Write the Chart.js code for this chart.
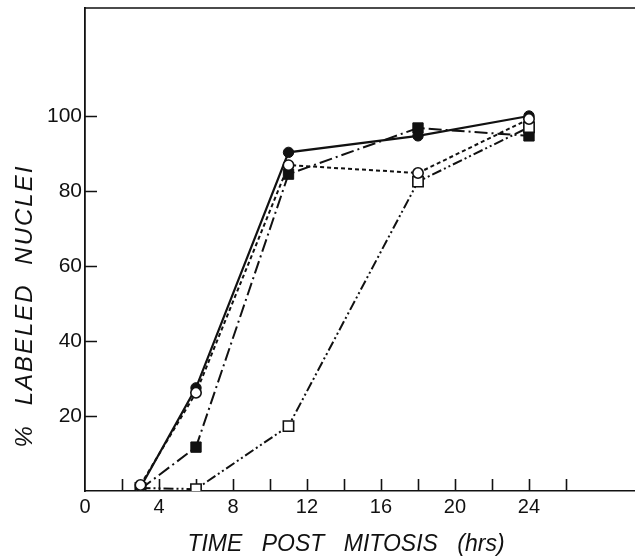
<!DOCTYPE html>
<html>
<head>
<meta charset="utf-8">
<title>% Labeled nuclei vs time post mitosis</title>
<script src="https://cdn.jsdelivr.net/npm/chart.js@4.4.1/dist/chart.umd.min.js"></script>
<style>
  html, body { margin: 0; padding: 0; background: #fff; }
  #wrap { width: 635px; height: 559px; }
</style>
</head>
<body>
<div id="wrap"><canvas id="c" width="635" height="559"></canvas></div>
<script>
// Sampling times (hrs after mitosis)
const hours = [3, 6, 11, 18, 24];

// % labeled nuclei for each series
const filledCircle = [1.0, 27.5, 90.3, 94.7, 100.0];
const openCircle   = [1.6, 26.2, 86.9, 84.8, 99.2];
const filledSquare = [0.5, 11.7, 84.5, 96.8, 94.7];
const openSquare   = [0.8, 0.5, 17.3, 82.5, 97.0];

// Labelled ticks and tick marks
const xTickLabels = [0, 4, 8, 12, 16, 20, 24];
const xTickMarks  = [2, 4, 6, 8, 10, 12, 14, 16, 18, 20, 22, 24, 26];
const yTickLabels = [20, 40, 60, 80, 100];
const yTickMarks  = [20, 40, 60, 80, 100];

const xTitle = 'TIME POST MITOSIS (hrs)';
const yTitle = '% LABELED NUCLEI';

const ink = '#111';

function pts(arr) {
  return hours.map((h, i) => ({ x: h, y: arr[i] }));
}

// Keep the plot frame fixed: no extra room reserved for edge labels
function noEdgePadding(s) {
  s.paddingTop = 0; s.paddingBottom = 0;
  s.paddingLeft = 0; s.paddingRight = 0;
}

// Inward tick marks, top frame line and axis titles
const framePlugin = {
  id: 'frame',
  beforeDatasetsDraw(chart) {
    const { ctx, chartArea, scales } = chart;
    ctx.save();
    ctx.strokeStyle = ink;
    ctx.lineWidth = 1.6;
    ctx.beginPath();
    ctx.moveTo(chartArea.left, chartArea.top);
    ctx.lineTo(chartArea.right, chartArea.top);
    xTickMarks.forEach(v => {
      const px = Math.round(scales.x.getPixelForValue(v)) + 0.5;
      ctx.moveTo(px, chartArea.bottom);
      ctx.lineTo(px, chartArea.bottom - 12);
    });
    yTickMarks.forEach(v => {
      const py = Math.round(scales.y.getPixelForValue(v)) + 0.5;
      ctx.moveTo(chartArea.left, py);
      ctx.lineTo(chartArea.left + 12, py);
    });
    ctx.stroke();
    ctx.restore();
  },
  afterDraw(chart) {
    const { ctx } = chart;
    ctx.save();
    ctx.fillStyle = ink;
    ctx.textAlign = 'center';
    ctx.textBaseline = 'middle';
    ctx.font = 'italic 23px "Liberation Sans"';
    ctx.wordSpacing = '13px';
    ctx.fillText(xTitle, 346, 545);
    ctx.font = 'italic 24px "Liberation Sans"';
    ctx.letterSpacing = '2px';
    ctx.wordSpacing = '10px';
    ctx.translate(25, 306);
    ctx.rotate(-Math.PI / 2);
    ctx.fillText(yTitle, 0, 0);
    ctx.restore();
  }
};

new Chart(document.getElementById('c'), {
  type: 'line',
  data: {
    datasets: [
      {
        label: 'open circle',
        data: pts(openCircle),
        borderColor: ink, borderWidth: 2, borderDash: [4, 3],
        pointStyle: 'circle', pointRadius: 5.2,
        pointBackgroundColor: '#fff', pointBorderColor: ink, pointBorderWidth: 1.6
      },
      {
        label: 'filled circle',
        data: pts(filledCircle),
        borderColor: ink, borderWidth: 2.2,
        pointStyle: 'circle', pointRadius: 5.2,
        pointBackgroundColor: ink, pointBorderColor: ink, pointBorderWidth: 1
      },
      {
        label: 'open square',
        data: pts(openSquare),
        borderColor: ink, borderWidth: 2, borderDash: [10, 3, 2, 3, 2, 3],
        pointStyle: 'rect', pointRadius: 7.3,
        pointBackgroundColor: '#fff', pointBorderColor: ink, pointBorderWidth: 1.6
      },
      {
        label: 'filled square',
        data: pts(filledSquare),
        borderColor: ink, borderWidth: 2, borderDash: [13, 4, 2, 4],
        pointStyle: 'rect', pointRadius: 7.3,
        pointBackgroundColor: ink, pointBorderColor: ink, pointBorderWidth: 1
      }
    ]
  },
  options: {
    responsive: false,
    animation: false,
    events: [],
    layout: { autoPadding: false, padding: { top: 8, right: 0, bottom: 0, left: 0 } },
    elements: { line: { tension: 0, fill: false } },
    plugins: { legend: { display: false }, tooltip: { enabled: false }, title: { display: false } },
    scales: {
      x: {
        type: 'linear',
        min: 0,
        max: 29.73,
        afterFit(s) { s.height = 68; noEdgePadding(s); },
        afterBuildTicks(s) { s.ticks = xTickLabels.map(v => ({ value: v })); },
        grid: { drawOnChartArea: false, drawTicks: false },
        border: { display: true, color: ink, width: 1.6 },
        ticks: { color: ink, font: { family: 'Liberation Sans', size: 20 }, padding: 4, maxRotation: 0, autoSkip: false }
      },
      y: {
        type: 'linear',
        min: 0,
        max: 128.8,
        afterFit(s) { s.width = 85; noEdgePadding(s); },
        afterBuildTicks(s) { s.ticks = yTickLabels.map(v => ({ value: v })); },
        grid: { drawOnChartArea: false, drawTicks: false },
        border: { display: true, color: ink, width: 1.8 },
        ticks: { color: ink, font: { family: 'Liberation Sans', size: 21 }, padding: 3, autoSkip: false }
      }
    }
  },
  plugins: [framePlugin]
});
</script>
</body>
</html>
